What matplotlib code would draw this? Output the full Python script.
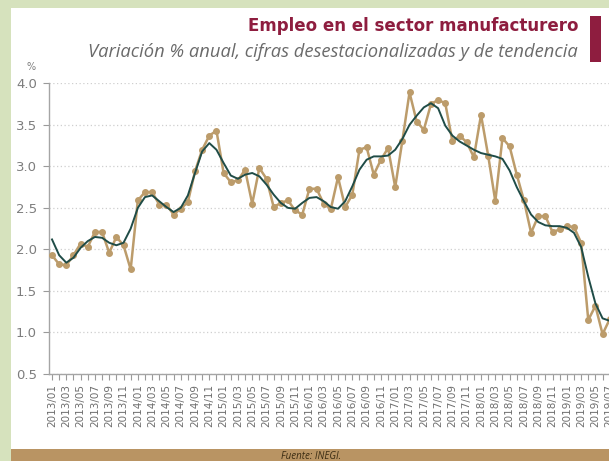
import matplotlib
matplotlib.use('Agg')
import matplotlib.pyplot as plt
from matplotlib.patches import Rectangle
import pandas as pd

# monthly axis, 2013/01 .. 2019/07
months = pd.period_range('2013-01', '2019-07', freq='M').strftime('%Y/%m').tolist()

# seasonally adjusted series (annual % change)
desestacionalizada = [
    1.93, 1.82, 1.81, 1.93, 2.07, 2.03, 2.21, 2.21, 1.96, 2.15, 2.05, 1.76,
    2.59, 2.69, 2.69, 2.54, 2.54, 2.42, 2.49, 2.57, 2.94, 3.20, 3.37, 3.43,
    2.92, 2.81, 2.83, 2.96, 2.55, 2.98, 2.85, 2.51, 2.56, 2.59, 2.47, 2.42,
    2.73, 2.73, 2.55, 2.49, 2.87, 2.51, 2.66, 3.20, 3.23, 2.90, 3.08, 3.22,
    2.75, 3.31, 3.89, 3.54, 3.44, 3.75, 3.80, 3.76, 3.30, 3.37, 3.29, 3.11,
    3.62, 3.13, 2.58, 3.34, 3.24, 2.90, 2.59, 2.20, 2.40, 2.40, 2.21, 2.24,
    2.28, 2.27, 2.08, 1.15, 1.32, 0.98, 1.16,
]

# trend series
tendencia = [
    2.12, 1.93, 1.84, 1.90, 2.02, 2.10, 2.15, 2.14, 2.08, 2.05, 2.08, 2.25,
    2.50, 2.63, 2.65, 2.58, 2.51, 2.45, 2.50, 2.65, 2.92, 3.18, 3.28, 3.20,
    3.04, 2.89, 2.85, 2.90, 2.92, 2.88, 2.78, 2.66, 2.56, 2.50, 2.49, 2.56,
    2.62, 2.63, 2.58, 2.51, 2.49, 2.58, 2.76, 2.96, 3.08, 3.12, 3.12, 3.13,
    3.20, 3.33, 3.50, 3.61, 3.71, 3.76, 3.70, 3.49, 3.37, 3.30, 3.25, 3.20,
    3.16, 3.14, 3.12, 3.09, 2.95, 2.75, 2.58, 2.42, 2.33, 2.29, 2.28, 2.28,
    2.26, 2.20, 2.03, 1.67, 1.35, 1.17, 1.14,
]

y_ticks = [0.5, 1.0, 1.5, 2.0, 2.5, 3.0, 3.5, 4.0]

W, H = 609, 461
GREEN = '#d6e2bd'
TAN = '#bc9c6b'
TEAL = '#1f4c47'
CRIMSON = '#8e1d3f'

fig = plt.figure(figsize=(W / 100, H / 100), dpi=100)
fig.patch.set_facecolor(GREEN)

# white card and brown footer band
fig.add_artist(Rectangle((11 / W, 0), 1, 1 - 8 / H, transform=fig.transFigure,
                         facecolor='white', edgecolor='none', zorder=0))
fig.add_artist(Rectangle((11 / W, 0), 1, 12 / H, transform=fig.transFigure,
                         facecolor='#b99463', edgecolor='none', zorder=0))

# axes: left spine at x=49, y=4.0 at 83px, y=0.5 at 374px; right side runs off the figure
x0, x1 = -0.38, 79.0
px_per_month = 7.15
ax = fig.add_axes([49.3 / W, (H - 374) / H, (x1 - x0) * px_per_month / W, (374 - 83.3) / H])
ax.set_facecolor('none')

x = list(range(len(months)))
ax.plot(x, desestacionalizada, color=TAN, lw=1.8, marker='o', ms=4,
        mfc=TAN, mec=TAN, zorder=3, clip_on=False)
ax.plot(x, tendencia, color=TEAL, lw=1.4, zorder=4, clip_on=False)

ax.set_xlim(x0, x1)
ax.set_ylim(0.5, 4.0)
ax.set_yticks(y_ticks)
ax.set_yticklabels([f'{v:.1f}' for v in y_ticks], fontsize=9.5, color='#7d7d7d')
ax.set_xticks(x)
ax.set_xticklabels([m if i % 2 == 0 else '' for i, m in enumerate(months)],
                   rotation=90, fontsize=7.5, color='#6e6e6e')
ax.tick_params(axis='x', length=4, width=0.8, color='#9a9a9a', pad=3)
ax.tick_params(axis='y', length=4, width=0.8, color='#9a9a9a', pad=5)

for side in ('top', 'right'):
    ax.spines[side].set_visible(False)
for side in ('left', 'bottom'):
    ax.spines[side].set_color('#a5a5a5')
    ax.spines[side].set_linewidth(1.0)

ax.yaxis.grid(True, linestyle=(0, (1, 2)), color='#cfcfcf', lw=0.9)
ax.set_axisbelow(True)

# titles
fig.text(578 / W, 1 - 17 / H, 'Empleo en el sector manufacturero', ha='right', va='top',
         fontsize=12, fontweight='bold', color=CRIMSON)
fig.text(578 / W, 1 - 43 / H, 'Variación % anual, cifras desestacionalizadas y de tendencia',
         ha='right', va='top', fontsize=13.2, style='italic', color='#6a6a6a',
         family='Open Sans')
fig.add_artist(Rectangle((590 / W, 1 - 62 / H), 11 / W, 46 / H, transform=fig.transFigure,
                         facecolor=CRIMSON, edgecolor='none'))
fig.text(31 / W, 1 - 67 / H, '%', ha='center', va='center', fontsize=7, color='#7d7d7d')

fig.text(311 / W, 1 - 456 / H, 'Fuente: INEGI.', ha='center', va='center',
         fontsize=7, style='italic', color='#3b2c12', family='Open Sans')

fig.savefig('out.png', dpi=100, facecolor=fig.get_facecolor())
